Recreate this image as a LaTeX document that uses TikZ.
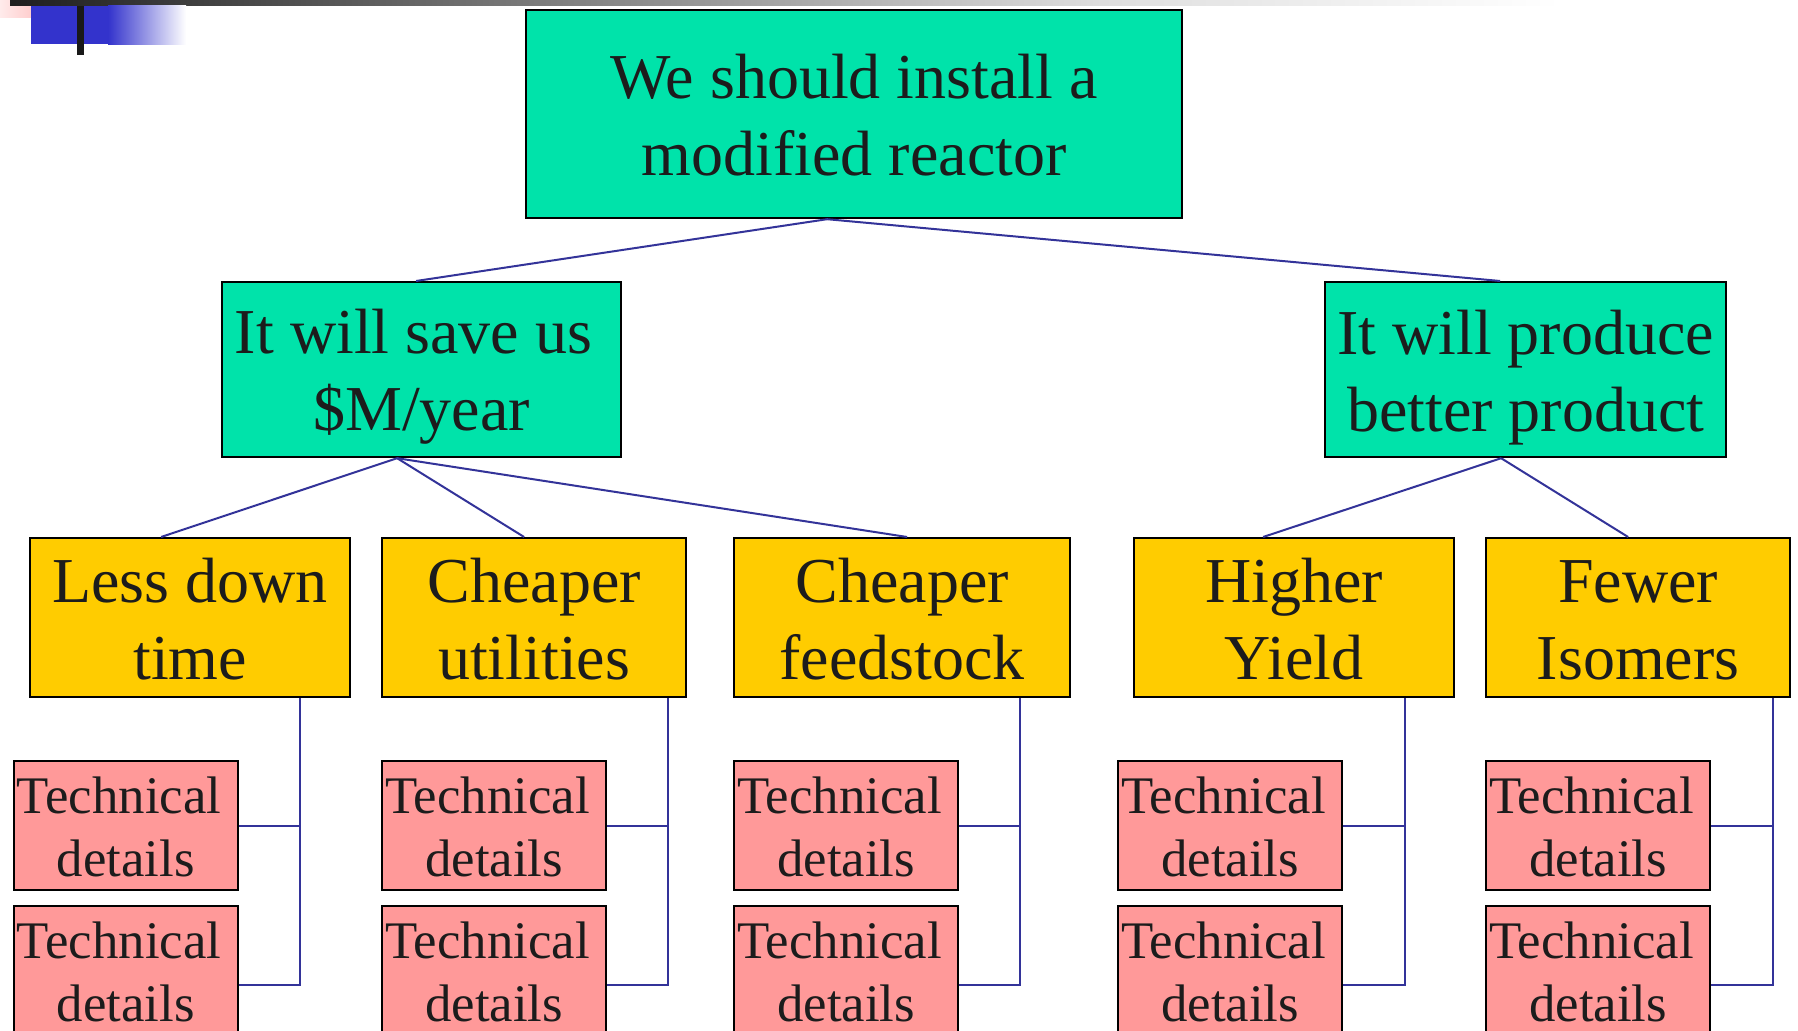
\documentclass[tikz,border=0pt]{standalone}
\usepackage{fontspec}
\setmainfont{Liberation Serif}
\definecolor{boxgreen}{HTML}{00E3AA}
\definecolor{boxyellow}{HTML}{FFCC00}
\definecolor{boxpink}{HTML}{FF9999}
\definecolor{connblue}{HTML}{333399}
\definecolor{txt}{HTML}{1C1C1C}
\definecolor{decoblue}{HTML}{3333CC}
\newcommand\lnst{\rule[-0.2em]{0pt}{1.13em}}
\begin{document}
\begin{tikzpicture}[x=0.5pt,y=-0.5pt,
  box/.style={draw=black, line width=1.1pt, inner sep=0pt, anchor=north west,
    align=center, text=txt, font=\fontsize{32}{38.5}\selectfont},
  greenbox/.style={box, fill=boxgreen},
  yellowbox/.style={box, fill=boxyellow, minimum height=79.5pt},
  pinkbox/.style={box, fill=boxpink, minimum width=112pt, minimum height=64.5pt,
    font=\fontsize{26.4}{31.6}\selectfont},
  conn/.style={draw=connblue, line width=1pt}]
\clip (0,0) rectangle (1798,1031);
\fill[white] (0,0) rectangle (1798,1031);
% top decoration
\shade[left color=red!8!white, right color=red!30!white] (0,0) rectangle (62,18);
\shade[left color=black!88, right color=black!13] (10,0) rectangle (1100,6);
\shade[left color=black!13, right color=white] (1099,0) rectangle (1560,6);
\fill[decoblue] (31,6) rectangle (108,44);
\shade[left color=decoblue, right color=white] (108,6) rectangle (186,45);
\fill[black!90] (77,6) rectangle (84,55);
% level 1
\node[greenbox, minimum width=328pt, minimum height=104pt] (top) at (525,9) {\lnst We should install a\\\lnst modified reactor};
% level 2
\node[greenbox, minimum width=199.5pt, minimum height=87.5pt] (l2a) at (221,281) {\lnst It will save us\kern.25em\\\lnst\$M/year};
\node[greenbox, minimum width=200.5pt, minimum height=87.5pt] (l2b) at (1324,281) {\lnst It will produce\\\lnst better product};
% level 3
\node[yellowbox, minimum width=160pt] (y1) at (29,537) {\lnst Less down\\\lnst time};
\node[yellowbox, minimum width=152pt] (y2) at (381,537) {\lnst Cheaper\\\lnst utilities};
\node[yellowbox, minimum width=168pt] (y3) at (733,537) {\lnst Cheaper\\\lnst feedstock};
\node[yellowbox, minimum width=160pt] (y4) at (1133,537) {\lnst Higher\\\lnst Yield};
\node[yellowbox, minimum width=152pt] (y5) at (1485,537) {\lnst Fewer\\\lnst Isomers};
% level 4
\node[pinkbox] (r11) at (12.6,760) {\lnst Technical\kern.25em\\\lnst details};
\node[pinkbox] (r12) at (12.6,905) {\lnst Technical\kern.25em\\\lnst details};
\node[pinkbox] (r21) at (381,760) {\lnst Technical\kern.25em\\\lnst details};
\node[pinkbox] (r22) at (381,905) {\lnst Technical\kern.25em\\\lnst details};
\node[pinkbox] (r31) at (733,760) {\lnst Technical\kern.25em\\\lnst details};
\node[pinkbox] (r32) at (733,905) {\lnst Technical\kern.25em\\\lnst details};
\node[pinkbox] (r41) at (1117,760) {\lnst Technical\kern.25em\\\lnst details};
\node[pinkbox] (r42) at (1117,905) {\lnst Technical\kern.25em\\\lnst details};
\node[pinkbox] (r51) at (1485,760) {\lnst Technical\kern.25em\\\lnst details};
\node[pinkbox] (r52) at (1485,905) {\lnst Technical\kern.25em\\\lnst details};
% connectors level 1-2
\draw[conn] ([xshift=-13.5pt]top.south) -- ([xshift=-2.75pt]l2a.north);
\draw[conn] ([xshift=-13.5pt]top.south) -- ([xshift=-12.75pt]l2b.north);
% connectors level 2-3
\draw[conn] ([xshift=-12.25pt]l2a.south) -- ([xshift=-14.5pt]y1.north);
\draw[conn] ([xshift=-12.25pt]l2a.south) -- ([xshift=-5pt]y2.north);
\draw[conn] ([xshift=-12.25pt]l2a.south) -- ([xshift=2.5pt]y3.north);
\draw[conn] ([xshift=-12.25pt]l2b.south) -- ([xshift=-15.5pt]y4.north);
\draw[conn] ([xshift=-12.25pt]l2b.south) -- ([xshift=-5pt]y5.north);
% connectors level 3-4
\coordinate (v1) at (300,0);
\coordinate (v2) at (668,0);
\coordinate (v3) at (1020,0);
\coordinate (v4) at (1405,0);
\coordinate (v5) at (1773,0);
\foreach \i in {1,...,5}{
  \draw[conn] (y\i.south -| v\i) |- ([yshift=-7.25pt]r\i2.east);
  \draw[conn] (r\i1.east) -- (r\i1.east -| v\i);
}
\end{tikzpicture}
\end{document}
